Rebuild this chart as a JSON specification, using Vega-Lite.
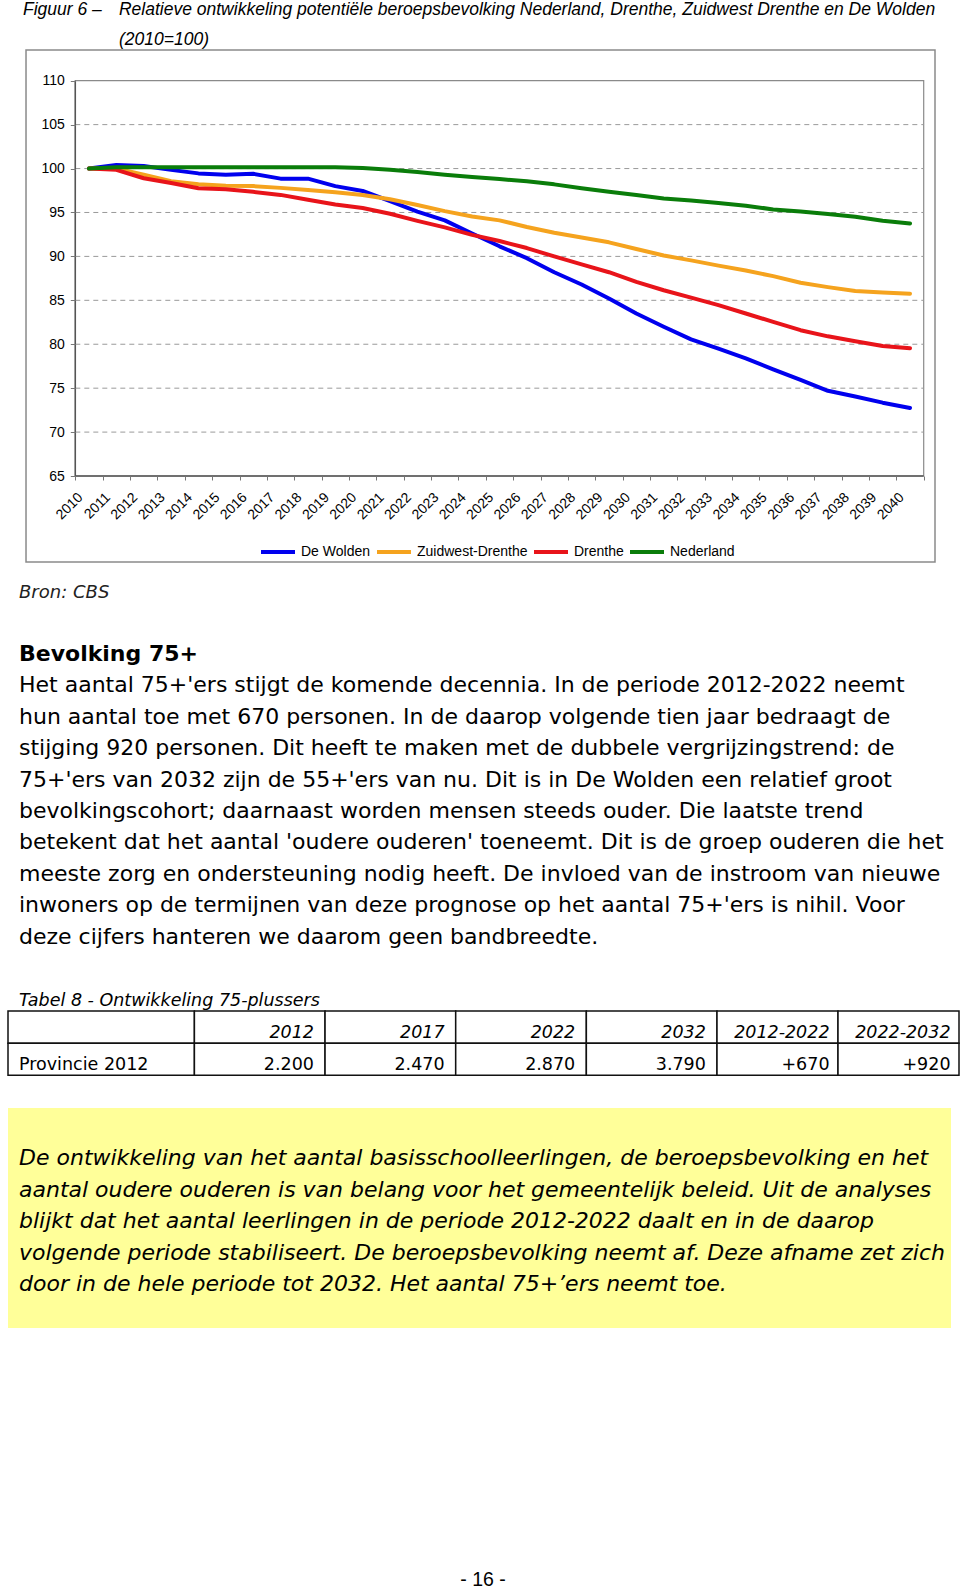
{
  "$schema": "https://vega.github.io/schema/vega-lite/v6.json",
  "padding": {"left": 7, "top": 0, "right": 0, "bottom": 0},
  "background": "white",
  "bounds": "flush",
  "spacing": 0,
  "config": {"view": {"stroke": null}, "font": "Liberation Sans"},
  "datasets": {
    "reeks": [
      {"jaar": 2010, "gebied": "De Wolden", "index": 100},
      {"jaar": 2011, "gebied": "De Wolden", "index": 100.4},
      {"jaar": 2012, "gebied": "De Wolden", "index": 100.3},
      {"jaar": 2013, "gebied": "De Wolden", "index": 99.85},
      {"jaar": 2014, "gebied": "De Wolden", "index": 99.45},
      {"jaar": 2015, "gebied": "De Wolden", "index": 99.3},
      {"jaar": 2016, "gebied": "De Wolden", "index": 99.4},
      {"jaar": 2017, "gebied": "De Wolden", "index": 98.85},
      {"jaar": 2018, "gebied": "De Wolden", "index": 98.85},
      {"jaar": 2019, "gebied": "De Wolden", "index": 98.0},
      {"jaar": 2020, "gebied": "De Wolden", "index": 97.45},
      {"jaar": 2021, "gebied": "De Wolden", "index": 96.3},
      {"jaar": 2022, "gebied": "De Wolden", "index": 95.1},
      {"jaar": 2023, "gebied": "De Wolden", "index": 94.1},
      {"jaar": 2024, "gebied": "De Wolden", "index": 92.6},
      {"jaar": 2025, "gebied": "De Wolden", "index": 91.15},
      {"jaar": 2026, "gebied": "De Wolden", "index": 89.8},
      {"jaar": 2027, "gebied": "De Wolden", "index": 88.2},
      {"jaar": 2028, "gebied": "De Wolden", "index": 86.8},
      {"jaar": 2029, "gebied": "De Wolden", "index": 85.2},
      {"jaar": 2030, "gebied": "De Wolden", "index": 83.5},
      {"jaar": 2031, "gebied": "De Wolden", "index": 82.0},
      {"jaar": 2032, "gebied": "De Wolden", "index": 80.55},
      {"jaar": 2033, "gebied": "De Wolden", "index": 79.5},
      {"jaar": 2034, "gebied": "De Wolden", "index": 78.4},
      {"jaar": 2035, "gebied": "De Wolden", "index": 77.15},
      {"jaar": 2036, "gebied": "De Wolden", "index": 75.95},
      {"jaar": 2037, "gebied": "De Wolden", "index": 74.7},
      {"jaar": 2038, "gebied": "De Wolden", "index": 74.05},
      {"jaar": 2039, "gebied": "De Wolden", "index": 73.35},
      {"jaar": 2040, "gebied": "De Wolden", "index": 72.75},
      {"jaar": 2010, "gebied": "Zuidwest-Drenthe", "index": 100},
      {"jaar": 2011, "gebied": "Zuidwest-Drenthe", "index": 100.0},
      {"jaar": 2012, "gebied": "Zuidwest-Drenthe", "index": 99.3},
      {"jaar": 2013, "gebied": "Zuidwest-Drenthe", "index": 98.55},
      {"jaar": 2014, "gebied": "Zuidwest-Drenthe", "index": 98.2},
      {"jaar": 2015, "gebied": "Zuidwest-Drenthe", "index": 98.05},
      {"jaar": 2016, "gebied": "Zuidwest-Drenthe", "index": 98.0},
      {"jaar": 2017, "gebied": "Zuidwest-Drenthe", "index": 97.8},
      {"jaar": 2018, "gebied": "Zuidwest-Drenthe", "index": 97.55},
      {"jaar": 2019, "gebied": "Zuidwest-Drenthe", "index": 97.3},
      {"jaar": 2020, "gebied": "Zuidwest-Drenthe", "index": 97.0},
      {"jaar": 2021, "gebied": "Zuidwest-Drenthe", "index": 96.5},
      {"jaar": 2022, "gebied": "Zuidwest-Drenthe", "index": 95.85},
      {"jaar": 2023, "gebied": "Zuidwest-Drenthe", "index": 95.15},
      {"jaar": 2024, "gebied": "Zuidwest-Drenthe", "index": 94.55},
      {"jaar": 2025, "gebied": "Zuidwest-Drenthe", "index": 94.1},
      {"jaar": 2026, "gebied": "Zuidwest-Drenthe", "index": 93.35},
      {"jaar": 2027, "gebied": "Zuidwest-Drenthe", "index": 92.7},
      {"jaar": 2028, "gebied": "Zuidwest-Drenthe", "index": 92.15},
      {"jaar": 2029, "gebied": "Zuidwest-Drenthe", "index": 91.6},
      {"jaar": 2030, "gebied": "Zuidwest-Drenthe", "index": 90.85},
      {"jaar": 2031, "gebied": "Zuidwest-Drenthe", "index": 90.1},
      {"jaar": 2032, "gebied": "Zuidwest-Drenthe", "index": 89.55},
      {"jaar": 2033, "gebied": "Zuidwest-Drenthe", "index": 88.95},
      {"jaar": 2034, "gebied": "Zuidwest-Drenthe", "index": 88.4},
      {"jaar": 2035, "gebied": "Zuidwest-Drenthe", "index": 87.75},
      {"jaar": 2036, "gebied": "Zuidwest-Drenthe", "index": 87.0},
      {"jaar": 2037, "gebied": "Zuidwest-Drenthe", "index": 86.5},
      {"jaar": 2038, "gebied": "Zuidwest-Drenthe", "index": 86.05},
      {"jaar": 2039, "gebied": "Zuidwest-Drenthe", "index": 85.9},
      {"jaar": 2040, "gebied": "Zuidwest-Drenthe", "index": 85.75},
      {"jaar": 2010, "gebied": "Drenthe", "index": 100},
      {"jaar": 2011, "gebied": "Drenthe", "index": 99.85},
      {"jaar": 2012, "gebied": "Drenthe", "index": 98.9},
      {"jaar": 2013, "gebied": "Drenthe", "index": 98.35},
      {"jaar": 2014, "gebied": "Drenthe", "index": 97.75},
      {"jaar": 2015, "gebied": "Drenthe", "index": 97.65},
      {"jaar": 2016, "gebied": "Drenthe", "index": 97.35},
      {"jaar": 2017, "gebied": "Drenthe", "index": 97.0},
      {"jaar": 2018, "gebied": "Drenthe", "index": 96.45},
      {"jaar": 2019, "gebied": "Drenthe", "index": 95.9},
      {"jaar": 2020, "gebied": "Drenthe", "index": 95.5},
      {"jaar": 2021, "gebied": "Drenthe", "index": 94.85},
      {"jaar": 2022, "gebied": "Drenthe", "index": 94.05},
      {"jaar": 2023, "gebied": "Drenthe", "index": 93.3},
      {"jaar": 2024, "gebied": "Drenthe", "index": 92.45},
      {"jaar": 2025, "gebied": "Drenthe", "index": 91.75},
      {"jaar": 2026, "gebied": "Drenthe", "index": 90.95},
      {"jaar": 2027, "gebied": "Drenthe", "index": 90.0},
      {"jaar": 2028, "gebied": "Drenthe", "index": 89.1},
      {"jaar": 2029, "gebied": "Drenthe", "index": 88.2},
      {"jaar": 2030, "gebied": "Drenthe", "index": 87.1},
      {"jaar": 2031, "gebied": "Drenthe", "index": 86.15},
      {"jaar": 2032, "gebied": "Drenthe", "index": 85.3},
      {"jaar": 2033, "gebied": "Drenthe", "index": 84.45},
      {"jaar": 2034, "gebied": "Drenthe", "index": 83.5},
      {"jaar": 2035, "gebied": "Drenthe", "index": 82.55},
      {"jaar": 2036, "gebied": "Drenthe", "index": 81.6},
      {"jaar": 2037, "gebied": "Drenthe", "index": 80.9},
      {"jaar": 2038, "gebied": "Drenthe", "index": 80.35},
      {"jaar": 2039, "gebied": "Drenthe", "index": 79.8},
      {"jaar": 2040, "gebied": "Drenthe", "index": 79.55},
      {"jaar": 2010, "gebied": "Nederland", "index": 100},
      {"jaar": 2011, "gebied": "Nederland", "index": 100.15},
      {"jaar": 2012, "gebied": "Nederland", "index": 100.15},
      {"jaar": 2013, "gebied": "Nederland", "index": 100.15},
      {"jaar": 2014, "gebied": "Nederland", "index": 100.15},
      {"jaar": 2015, "gebied": "Nederland", "index": 100.15},
      {"jaar": 2016, "gebied": "Nederland", "index": 100.15},
      {"jaar": 2017, "gebied": "Nederland", "index": 100.15},
      {"jaar": 2018, "gebied": "Nederland", "index": 100.15},
      {"jaar": 2019, "gebied": "Nederland", "index": 100.15},
      {"jaar": 2020, "gebied": "Nederland", "index": 100.05},
      {"jaar": 2021, "gebied": "Nederland", "index": 99.85},
      {"jaar": 2022, "gebied": "Nederland", "index": 99.6},
      {"jaar": 2023, "gebied": "Nederland", "index": 99.3},
      {"jaar": 2024, "gebied": "Nederland", "index": 99.05},
      {"jaar": 2025, "gebied": "Nederland", "index": 98.8},
      {"jaar": 2026, "gebied": "Nederland", "index": 98.55},
      {"jaar": 2027, "gebied": "Nederland", "index": 98.2},
      {"jaar": 2028, "gebied": "Nederland", "index": 97.75},
      {"jaar": 2029, "gebied": "Nederland", "index": 97.35},
      {"jaar": 2030, "gebied": "Nederland", "index": 97.0},
      {"jaar": 2031, "gebied": "Nederland", "index": 96.6},
      {"jaar": 2032, "gebied": "Nederland", "index": 96.35},
      {"jaar": 2033, "gebied": "Nederland", "index": 96.07},
      {"jaar": 2034, "gebied": "Nederland", "index": 95.77},
      {"jaar": 2035, "gebied": "Nederland", "index": 95.35},
      {"jaar": 2036, "gebied": "Nederland", "index": 95.1},
      {"jaar": 2037, "gebied": "Nederland", "index": 94.83},
      {"jaar": 2038, "gebied": "Nederland", "index": 94.52},
      {"jaar": 2039, "gebied": "Nederland", "index": 94.05},
      {"jaar": 2040, "gebied": "Nederland", "index": 93.75}
    ],
    "tabel": [
      {"part": "label", "row": "kop", "col": "label", "text": ""},
      {"part": "label", "row": "data", "col": "label", "text": "Provincie 2012"},
      {"part": "jaar", "row": "kop", "col": "2012", "text": "2012"},
      {"part": "jaar", "row": "data", "col": "2012", "text": "2.200"},
      {"part": "jaar", "row": "kop", "col": "2017", "text": "2017"},
      {"part": "jaar", "row": "data", "col": "2017", "text": "2.470"},
      {"part": "jaar", "row": "kop", "col": "2022", "text": "2022"},
      {"part": "jaar", "row": "data", "col": "2022", "text": "2.870"},
      {"part": "jaar", "row": "kop", "col": "2032", "text": "2032"},
      {"part": "jaar", "row": "data", "col": "2032", "text": "3.790"},
      {"part": "verschil", "row": "kop", "col": "2012-2022", "text": "2012-2022"},
      {"part": "verschil", "row": "data", "col": "2012-2022", "text": "+670"},
      {"part": "verschil", "row": "kop", "col": "2022-2032", "text": "2022-2032"},
      {"part": "verschil", "row": "data", "col": "2022-2032", "text": "+920"}
    ]
  },
  "vconcat": [
    {
      "width": 115.2,
      "height": 50,
      "data": {"values": [
        {"part": "nummer", "line": 0, "text": "Figuur 6 –"},
        {"part": "titel", "line": 0, "text": "Relatieve ontwikkeling potentiële beroepsbevolking Nederland, Drenthe, Zuidwest Drenthe en De Wolden"},
        {"part": "titel", "line": 1, "text": "(2010=100)"}
      ]},
      "mark": {"type": "text", "align": "left", "baseline": "middle", "font": "Liberation Sans", "fontStyle": "italic", "fontSize": 17.5, "color": "#000"},
      "encoding": {
        "x": {"field": "part", "type": "nominal", "axis": null, "scale": {"type": "point", "domain": ["nummer", "titel"], "padding": 0.1, "align": 0.78}},
        "y": {"field": "line", "type": "ordinal", "axis": null, "scale": {"type": "point", "domain": [0, 1], "padding": 0.3197, "align": 0.49}},
        "text": {"field": "text"}
      }
    },
    {
      "width": 943,
      "height": 512,
      "layer": [
        {
          "data": {"values": [{}]},
          "mark": {"type": "rect", "fill": "white", "stroke": "#8a8a8a", "strokeWidth": 1.5},
          "encoding": {
            "x": {"datum": 2007.699, "type": "quantitative", "scale": {"domain": [2007.0407, 2041.4976], "nice": false, "zero": false},
              "axis": {"orient": "bottom", "offset": -86, "zindex": 1, "values": [2009.5, 2010.5, 2011.5, 2012.5, 2013.5, 2014.5, 2015.5, 2016.5, 2017.5, 2018.5, 2019.5, 2020.5, 2021.5, 2022.5, 2023.5, 2024.5, 2025.5, 2026.5, 2027.5, 2028.5, 2029.5, 2030.5, 2031.5, 2032.5, 2033.5, 2034.5, 2035.5, 2036.5, 2037.5, 2038.5, 2039.5, 2040.5], "labelExpr": "datum.value > 2040 ? '' : format(datum.value + 0.5, 'd')", "labelAngle": -45, "labelAlign": "right", "labelBaseline": "middle", "labelOffset": 5, "labelPadding": 15, "labelFlush": false, "labelOverlap": false, "labelBound": false, "labelSeparation": 0, "labelFont": "Liberation Sans", "labelFontSize": 14, "labelColor": "#000", "tickSize": 4, "tickColor": "#777777", "domain": false, "grid": false, "title": null}},
            "x2": {"datum": 2040.913},
            "y": {"datum": 55.213, "type": "quantitative", "scale": {"domain": [55.213, 113.4946], "nice": false, "zero": false},
              "axis": {"orient": "left", "offset": -67.3, "zindex": 1, "values": [65, 70, 75, 80, 85, 90, 95, 100, 105, 110], "labelFont": "Liberation Sans", "labelFontSize": 14, "labelColor": "#000", "labelPadding": 6, "tickSize": 5, "tickColor": "#777777", "labelFlush": false, "labelOverlap": false, "domain": false, "grid": false, "title": null}},
            "y2": {"datum": 113.4946}
          }
        },
        {
          "data": {"values": [{}]},
          "mark": {"type": "rect", "fill": "white", "stroke": "#8a8a8a", "strokeWidth": 1.2},
          "encoding": {
            "x": {"datum": 2009.5, "type": "quantitative", "scale": {"domain": [2007.0407, 2041.4976], "nice": false, "zero": false},
              "axis": {"orient": "bottom", "offset": -86, "zindex": 1, "values": [2009.5, 2010.5, 2011.5, 2012.5, 2013.5, 2014.5, 2015.5, 2016.5, 2017.5, 2018.5, 2019.5, 2020.5, 2021.5, 2022.5, 2023.5, 2024.5, 2025.5, 2026.5, 2027.5, 2028.5, 2029.5, 2030.5, 2031.5, 2032.5, 2033.5, 2034.5, 2035.5, 2036.5, 2037.5, 2038.5, 2039.5, 2040.5], "labelExpr": "datum.value > 2040 ? '' : format(datum.value + 0.5, 'd')", "labelAngle": -45, "labelAlign": "right", "labelBaseline": "middle", "labelOffset": 5, "labelPadding": 15, "labelFlush": false, "labelOverlap": false, "labelBound": false, "labelSeparation": 0, "labelFont": "Liberation Sans", "labelFontSize": 14, "labelColor": "#000", "tickSize": 4, "tickColor": "#777777", "domain": false, "grid": false, "title": null}},
            "x2": {"datum": 2040.5},
            "y": {"datum": 65, "type": "quantitative", "scale": {"domain": [55.213, 113.4946], "nice": false, "zero": false},
              "axis": {"orient": "left", "offset": -67.3, "zindex": 1, "values": [65, 70, 75, 80, 85, 90, 95, 100, 105, 110], "labelFont": "Liberation Sans", "labelFontSize": 14, "labelColor": "#000", "labelPadding": 6, "tickSize": 5, "tickColor": "#777777", "labelFlush": false, "labelOverlap": false, "domain": false, "grid": false, "title": null}},
            "y2": {"datum": 110}
          }
        },
        {
          "data": {"values": [{"g": 70}, {"g": 75}, {"g": 80}, {"g": 85}, {"g": 90}, {"g": 95}, {"g": 100}, {"g": 105}]},
          "mark": {"type": "rule", "stroke": "#9a9a9a", "strokeWidth": 1, "strokeDash": [5, 4]},
          "encoding": {
            "x": {"datum": 2009.5, "type": "quantitative", "scale": {"domain": [2007.0407, 2041.4976], "nice": false, "zero": false},
              "axis": {"orient": "bottom", "offset": -86, "zindex": 1, "values": [2009.5, 2010.5, 2011.5, 2012.5, 2013.5, 2014.5, 2015.5, 2016.5, 2017.5, 2018.5, 2019.5, 2020.5, 2021.5, 2022.5, 2023.5, 2024.5, 2025.5, 2026.5, 2027.5, 2028.5, 2029.5, 2030.5, 2031.5, 2032.5, 2033.5, 2034.5, 2035.5, 2036.5, 2037.5, 2038.5, 2039.5, 2040.5], "labelExpr": "datum.value > 2040 ? '' : format(datum.value + 0.5, 'd')", "labelAngle": -45, "labelAlign": "right", "labelBaseline": "middle", "labelOffset": 5, "labelPadding": 15, "labelFlush": false, "labelOverlap": false, "labelBound": false, "labelSeparation": 0, "labelFont": "Liberation Sans", "labelFontSize": 14, "labelColor": "#000", "tickSize": 4, "tickColor": "#777777", "domain": false, "grid": false, "title": null}},
            "x2": {"datum": 2040.5},
            "y": {"field": "g", "type": "quantitative", "scale": {"domain": [55.213, 113.4946], "nice": false, "zero": false},
              "axis": {"orient": "left", "offset": -67.3, "zindex": 1, "values": [65, 70, 75, 80, 85, 90, 95, 100, 105, 110], "labelFont": "Liberation Sans", "labelFontSize": 14, "labelColor": "#000", "labelPadding": 6, "tickSize": 5, "tickColor": "#777777", "labelFlush": false, "labelOverlap": false, "domain": false, "grid": false, "title": null}}
          }
        },
        {
          "data": {"values": [{}]},
          "mark": {"type": "rule", "stroke": "#555555", "strokeWidth": 1.5},
          "encoding": {
            "x": {"datum": 2009.5, "type": "quantitative", "scale": {"domain": [2007.0407, 2041.4976], "nice": false, "zero": false},
              "axis": {"orient": "bottom", "offset": -86, "zindex": 1, "values": [2009.5, 2010.5, 2011.5, 2012.5, 2013.5, 2014.5, 2015.5, 2016.5, 2017.5, 2018.5, 2019.5, 2020.5, 2021.5, 2022.5, 2023.5, 2024.5, 2025.5, 2026.5, 2027.5, 2028.5, 2029.5, 2030.5, 2031.5, 2032.5, 2033.5, 2034.5, 2035.5, 2036.5, 2037.5, 2038.5, 2039.5, 2040.5], "labelExpr": "datum.value > 2040 ? '' : format(datum.value + 0.5, 'd')", "labelAngle": -45, "labelAlign": "right", "labelBaseline": "middle", "labelOffset": 5, "labelPadding": 15, "labelFlush": false, "labelOverlap": false, "labelBound": false, "labelSeparation": 0, "labelFont": "Liberation Sans", "labelFontSize": 14, "labelColor": "#000", "tickSize": 4, "tickColor": "#777777", "domain": false, "grid": false, "title": null}},
            "y": {"datum": 65, "type": "quantitative", "scale": {"domain": [55.213, 113.4946], "nice": false, "zero": false},
              "axis": {"orient": "left", "offset": -67.3, "zindex": 1, "values": [65, 70, 75, 80, 85, 90, 95, 100, 105, 110], "labelFont": "Liberation Sans", "labelFontSize": 14, "labelColor": "#000", "labelPadding": 6, "tickSize": 5, "tickColor": "#777777", "labelFlush": false, "labelOverlap": false, "domain": false, "grid": false, "title": null}},
            "y2": {"datum": 110}
          }
        },
        {
          "data": {"values": [{}]},
          "mark": {"type": "rule", "stroke": "#555555", "strokeWidth": 1.5},
          "encoding": {
            "x": {"datum": 2009.5, "type": "quantitative", "scale": {"domain": [2007.0407, 2041.4976], "nice": false, "zero": false},
              "axis": {"orient": "bottom", "offset": -86, "zindex": 1, "values": [2009.5, 2010.5, 2011.5, 2012.5, 2013.5, 2014.5, 2015.5, 2016.5, 2017.5, 2018.5, 2019.5, 2020.5, 2021.5, 2022.5, 2023.5, 2024.5, 2025.5, 2026.5, 2027.5, 2028.5, 2029.5, 2030.5, 2031.5, 2032.5, 2033.5, 2034.5, 2035.5, 2036.5, 2037.5, 2038.5, 2039.5, 2040.5], "labelExpr": "datum.value > 2040 ? '' : format(datum.value + 0.5, 'd')", "labelAngle": -45, "labelAlign": "right", "labelBaseline": "middle", "labelOffset": 5, "labelPadding": 15, "labelFlush": false, "labelOverlap": false, "labelBound": false, "labelSeparation": 0, "labelFont": "Liberation Sans", "labelFontSize": 14, "labelColor": "#000", "tickSize": 4, "tickColor": "#777777", "domain": false, "grid": false, "title": null}},
            "x2": {"datum": 2040.5},
            "y": {"datum": 65, "type": "quantitative", "scale": {"domain": [55.213, 113.4946], "nice": false, "zero": false},
              "axis": {"orient": "left", "offset": -67.3, "zindex": 1, "values": [65, 70, 75, 80, 85, 90, 95, 100, 105, 110], "labelFont": "Liberation Sans", "labelFontSize": 14, "labelColor": "#000", "labelPadding": 6, "tickSize": 5, "tickColor": "#777777", "labelFlush": false, "labelOverlap": false, "domain": false, "grid": false, "title": null}}
          }
        },
        {
          "data": {"name": "reeks"},
          "mark": {"type": "line", "strokeWidth": 4, "strokeJoin": "round", "strokeCap": "round"},
          "encoding": {
            "x": {"field": "jaar", "type": "quantitative", "scale": {"domain": [2007.0407, 2041.4976], "nice": false, "zero": false},
              "axis": {"orient": "bottom", "offset": -86, "zindex": 1, "values": [2009.5, 2010.5, 2011.5, 2012.5, 2013.5, 2014.5, 2015.5, 2016.5, 2017.5, 2018.5, 2019.5, 2020.5, 2021.5, 2022.5, 2023.5, 2024.5, 2025.5, 2026.5, 2027.5, 2028.5, 2029.5, 2030.5, 2031.5, 2032.5, 2033.5, 2034.5, 2035.5, 2036.5, 2037.5, 2038.5, 2039.5, 2040.5], "labelExpr": "datum.value > 2040 ? '' : format(datum.value + 0.5, 'd')", "labelAngle": -45, "labelAlign": "right", "labelBaseline": "middle", "labelOffset": 5, "labelPadding": 15, "labelFlush": false, "labelOverlap": false, "labelBound": false, "labelSeparation": 0, "labelFont": "Liberation Sans", "labelFontSize": 14, "labelColor": "#000", "tickSize": 4, "tickColor": "#777777", "domain": false, "grid": false, "title": null}},
            "y": {"field": "index", "type": "quantitative", "scale": {"domain": [55.213, 113.4946], "nice": false, "zero": false},
              "axis": {"orient": "left", "offset": -67.3, "zindex": 1, "values": [65, 70, 75, 80, 85, 90, 95, 100, 105, 110], "labelFont": "Liberation Sans", "labelFontSize": 14, "labelColor": "#000", "labelPadding": 6, "tickSize": 5, "tickColor": "#777777", "labelFlush": false, "labelOverlap": false, "domain": false, "grid": false, "title": null}},
            "color": {
              "field": "gebied", "type": "nominal",
              "scale": {"domain": ["De Wolden", "Zuidwest-Drenthe", "Drenthe", "Nederland"], "range": ["#0000ee", "#f5a31e", "#e8141a", "#0a7d0a"]},
              "legend": {
                "orient": "none", "legendX": 251, "legendY": 533, "direction": "horizontal", "title": null,
                "symbolType": "stroke", "symbolSize": 1156, "symbolStrokeWidth": 4,
                "labelFont": "Liberation Sans", "labelFontSize": 14, "labelColor": "#000",
                "labelOffset": 4, "columnPadding": -2, "padding": 0, "symbolOffset": 0
              }
            }
          }
        }
      ]
    },
    {
      "width": 943,
      "height": 448.6,
      "data": {"values": [
        {"block": "tekst", "kind": "bron", "line": 0, "text": "Bron: CBS"},
        {"block": "tekst", "kind": "kop", "line": 2, "text": "Bevolking 75+"},
        {"block": "tekst", "kind": "tekst", "line": 3, "text": "Het aantal 75+'ers stijgt de komende decennia. In de periode 2012-2022 neemt"},
        {"block": "tekst", "kind": "tekst", "line": 4, "text": "hun aantal toe met 670 personen. In de daarop volgende tien jaar bedraagt de"},
        {"block": "tekst", "kind": "tekst", "line": 5, "text": "stijging 920 personen. Dit heeft te maken met de dubbele vergrijzingstrend: de"},
        {"block": "tekst", "kind": "tekst", "line": 6, "text": "75+'ers van 2032 zijn de 55+'ers van nu. Dit is in De Wolden een relatief groot"},
        {"block": "tekst", "kind": "tekst", "line": 7, "text": "bevolkingscohort; daarnaast worden mensen steeds ouder. Die laatste trend"},
        {"block": "tekst", "kind": "tekst", "line": 8, "text": "betekent dat het aantal 'oudere ouderen' toeneemt. Dit is de groep ouderen die het"},
        {"block": "tekst", "kind": "tekst", "line": 9, "text": "meeste zorg en ondersteuning nodig heeft. De invloed van de instroom van nieuwe"},
        {"block": "tekst", "kind": "tekst", "line": 10, "text": "inwoners op de termijnen van deze prognose op het aantal 75+'ers is nihil. Voor"},
        {"block": "tekst", "kind": "tekst", "line": 11, "text": "deze cijfers hanteren we daarom geen bandbreedte."},
        {"block": "tekst", "kind": "tabel", "line": 13, "text": "Tabel 8 - Ontwikkeling 75-plussers"}
      ]},
      "encoding": {
        "x": {"field": "block", "type": "nominal", "axis": null, "scale": {"type": "band", "paddingInner": 0, "paddingOuter": 0}, "bandPosition": 0.01167},
        "y": {"field": "line", "type": "ordinal", "axis": null, "scale": {"type": "point", "domain": [0, 1, 2, 3, 4, 5, 6, 7, 8, 9, 10, 11, 12, 13], "padding": 0.638, "align": 0.723}},
        "text": {"field": "text"}
      },
      "layer": [
        {"transform": [{"filter": "datum.kind === 'bron'"}], "mark": {"type": "text", "align": "left", "baseline": "middle", "dy": 2, "font": "DejaVu Sans", "fontStyle": "italic", "fontSize": 18, "color": "#222222"}},
        {"transform": [{"filter": "datum.kind === 'kop'"}], "mark": {"type": "text", "align": "left", "baseline": "middle", "font": "DejaVu Sans", "fontWeight": "bold", "fontSize": 22, "color": "#000"}},
        {"transform": [{"filter": "datum.kind === 'tekst'"}], "mark": {"type": "text", "align": "left", "baseline": "middle", "font": "DejaVu Sans", "fontSize": 22, "color": "#000"}},
        {"transform": [{"filter": "datum.kind === 'tabel'"}], "mark": {"type": "text", "align": "left", "baseline": "middle", "dy": 2, "font": "DejaVu Sans", "fontStyle": "italic", "fontSize": 17.5, "color": "#000"}}
      ]
    },
    {
      "width": 951,
      "height": 96.4,
      "data": {"name": "tabel"},
      "resolve": {"scale": {"x": "independent"}},
      "layer": [
        {
          "transform": [{"filter": "datum.part === 'label'"}],
          "mark": {"type": "rect", "fill": "white", "stroke": "#111111", "strokeWidth": 1.5},
          "encoding": {
            "x": {"field": "col", "type": "nominal", "axis": null, "scale": {"type": "band", "domain": ["label"], "range": [0, 186.4], "paddingInner": 0, "paddingOuter": 0}},
            "y": {"field": "row", "type": "nominal", "axis": null, "scale": {"type": "band", "domain": ["kop", "data", "leeg"], "paddingInner": 0, "paddingOuter": 0}}
          }
        },
        {
          "transform": [{"filter": "datum.part === 'jaar'"}],
          "mark": {"type": "rect", "fill": "white", "stroke": "#111111", "strokeWidth": 1.5},
          "encoding": {
            "x": {"field": "col", "type": "nominal", "axis": null, "scale": {"type": "band", "domain": ["2012", "2017", "2022", "2032"], "range": [186.4, 709], "paddingInner": 0, "paddingOuter": 0}},
            "y": {"field": "row", "type": "nominal", "axis": null, "scale": {"type": "band", "domain": ["kop", "data", "leeg"], "paddingInner": 0, "paddingOuter": 0}}
          }
        },
        {
          "transform": [{"filter": "datum.part === 'verschil'"}],
          "mark": {"type": "rect", "fill": "white", "stroke": "#111111", "strokeWidth": 1.5},
          "encoding": {
            "x": {"field": "col", "type": "nominal", "axis": null, "scale": {"type": "band", "domain": ["2012-2022", "2022-2032"], "range": [709, 951], "paddingInner": 0, "paddingOuter": 0}},
            "y": {"field": "row", "type": "nominal", "axis": null, "scale": {"type": "band", "domain": ["kop", "data", "leeg"], "paddingInner": 0, "paddingOuter": 0}}
          }
        },
        {
          "transform": [{"filter": "datum.part === 'label' && datum.row === 'data'"}],
          "mark": {"type": "text", "align": "left", "baseline": "alphabetic", "font": "DejaVu Sans", "fontSize": 17.5, "color": "#000"},
          "encoding": {
            "x": {"field": "col", "type": "nominal", "axis": null, "scale": {"type": "band", "domain": ["label"], "range": [0, 186.4], "paddingInner": 0, "paddingOuter": 0}, "bandPosition": 0.059},
            "y": {"field": "row", "type": "nominal", "axis": null, "scale": {"type": "band", "domain": ["kop", "data", "leeg"], "paddingInner": 0, "paddingOuter": 0}, "bandPosition": 0.85},
            "text": {"field": "text"}
          }
        },
        {
          "transform": [{"filter": "datum.part === 'jaar' && datum.row === 'kop'"}],
          "mark": {"type": "text", "align": "right", "baseline": "alphabetic", "font": "DejaVu Sans", "fontStyle": "italic", "fontSize": 17.5, "color": "#000"},
          "encoding": {
            "x": {"field": "col", "type": "nominal", "axis": null, "scale": {"type": "band", "domain": ["2012", "2017", "2022", "2032"], "range": [186.4, 709], "paddingInner": 0, "paddingOuter": 0}, "bandPosition": 0.915},
            "y": {"field": "row", "type": "nominal", "axis": null, "scale": {"type": "band", "domain": ["kop", "data", "leeg"], "paddingInner": 0, "paddingOuter": 0}, "bandPosition": 0.85},
            "text": {"field": "text"}
          }
        },
        {
          "transform": [{"filter": "datum.part === 'jaar' && datum.row === 'data'"}],
          "mark": {"type": "text", "align": "right", "baseline": "alphabetic", "font": "DejaVu Sans", "fontSize": 17.5, "color": "#000"},
          "encoding": {
            "x": {"field": "col", "type": "nominal", "axis": null, "scale": {"type": "band", "domain": ["2012", "2017", "2022", "2032"], "range": [186.4, 709], "paddingInner": 0, "paddingOuter": 0}, "bandPosition": 0.915},
            "y": {"field": "row", "type": "nominal", "axis": null, "scale": {"type": "band", "domain": ["kop", "data", "leeg"], "paddingInner": 0, "paddingOuter": 0}, "bandPosition": 0.85},
            "text": {"field": "text"}
          }
        },
        {
          "transform": [{"filter": "datum.part === 'verschil' && datum.row === 'kop'"}],
          "mark": {"type": "text", "align": "right", "baseline": "alphabetic", "font": "DejaVu Sans", "fontStyle": "italic", "fontSize": 17.5, "color": "#000"},
          "encoding": {
            "x": {"field": "col", "type": "nominal", "axis": null, "scale": {"type": "band", "domain": ["2012-2022", "2022-2032"], "range": [709, 951], "paddingInner": 0, "paddingOuter": 0}, "bandPosition": 0.93},
            "y": {"field": "row", "type": "nominal", "axis": null, "scale": {"type": "band", "domain": ["kop", "data", "leeg"], "paddingInner": 0, "paddingOuter": 0}, "bandPosition": 0.85},
            "text": {"field": "text"}
          }
        },
        {
          "transform": [{"filter": "datum.part === 'verschil' && datum.row === 'data'"}],
          "mark": {"type": "text", "align": "right", "baseline": "alphabetic", "font": "DejaVu Sans", "fontSize": 17.5, "color": "#000"},
          "encoding": {
            "x": {"field": "col", "type": "nominal", "axis": null, "scale": {"type": "band", "domain": ["2012-2022", "2022-2032"], "range": [709, 951], "paddingInner": 0, "paddingOuter": 0}, "bandPosition": 0.93},
            "y": {"field": "row", "type": "nominal", "axis": null, "scale": {"type": "band", "domain": ["kop", "data", "leeg"], "paddingInner": 0, "paddingOuter": 0}, "bandPosition": 0.85},
            "text": {"field": "text"}
          }
        }
      ]
    },
    {
      "width": 943,
      "height": 220,
      "view": {"fill": "#ffff99", "stroke": null},
      "data": {"values": [
        {"block": "kader", "line": 0, "text": "De ontwikkeling van het aantal basisschoolleerlingen, de beroepsbevolking en het"},
        {"block": "kader", "line": 1, "text": "aantal oudere ouderen is van belang voor het gemeentelijk beleid. Uit de analyses"},
        {"block": "kader", "line": 2, "text": "blijkt dat het aantal leerlingen in de periode 2012-2022 daalt en in de daarop"},
        {"block": "kader", "line": 3, "text": "volgende periode stabiliseert. De beroepsbevolking neemt af. Deze afname zet zich"},
        {"block": "kader", "line": 4, "text": "door in de hele periode tot 2032. Het aantal 75+’ers neemt toe."}
      ]},
      "mark": {"type": "text", "align": "left", "baseline": "middle", "font": "DejaVu Sans", "fontStyle": "italic", "fontSize": 22, "color": "#000"},
      "encoding": {
        "x": {"field": "block", "type": "nominal", "axis": null, "scale": {"type": "band", "paddingInner": 0, "paddingOuter": 0}, "bandPosition": 0.01167},
        "y": {"field": "line", "type": "ordinal", "axis": null, "scale": {"type": "point", "domain": [-1, 0, 1, 2, 3, 4, 5], "padding": 0.507, "align": 0.6016}},
        "text": {"field": "text"}
      }
    },
    {
      "width": 950,
      "height": 261,
      "data": {"values": [{"block": "pagina", "text": "- 16 -"}]},
      "mark": {"type": "text", "align": "center", "baseline": "middle", "font": "Liberation Sans", "fontSize": 19.5, "color": "#000"},
      "encoding": {
        "x": {"field": "block", "type": "nominal", "axis": null, "scale": {"type": "point"}},
        "y": {"field": "block", "type": "nominal", "axis": null, "scale": {"type": "point", "align": 0.9655}},
        "text": {"field": "text"}
      }
    }
  ]
}
